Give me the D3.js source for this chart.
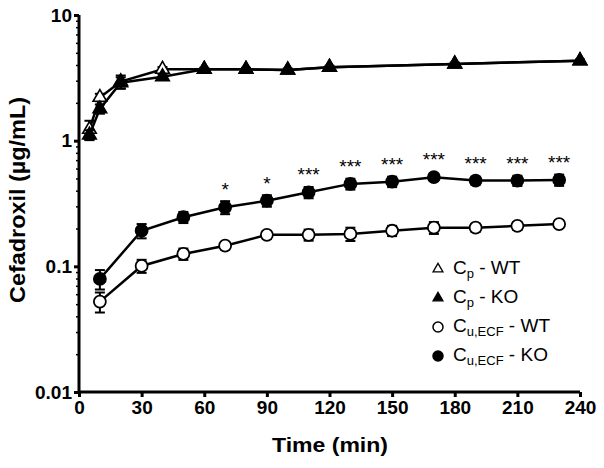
<!DOCTYPE html>
<html>
<head>
<meta charset="utf-8">
<script src="https://cdn.jsdelivr.net/npm/d3@7"></script>
<style>
  html, body { margin: 0; padding: 0; background: #fff; }
  svg { display: block; }
</style>
</head>
<body>
<svg id="chart" width="604" height="468"></svg>
<script>
// ---- Data ----
const cpTimes = [5, 10, 20, 40, 60, 80, 100, 120, 180, 240];
const cpWT = [1.23, 2.21, 2.95, 3.70, 3.70, 3.70, 3.65, 3.84, 4.08, 4.33];
const cpWTerr = [0.21, 0.15, 0.35, 0.15, 0, 0, 0, 0, 0, 0];
const cpKO = [1.11, 1.79, 2.89, 3.23, 3.70, 3.70, 3.65, 3.84, 4.08, 4.33];
const cpKOerr = [0.10, 0.15, 0.30, 0.15, 0.1, 0.1, 0.1, 0.1, 0.1, 0.1];

const cuTimes = [10, 30, 50, 70, 90, 110, 130, 150, 170, 190, 210, 230];
const cuWT = [0.0524, 0.1007, 0.1255, 0.146, 0.178, 0.178, 0.181, 0.192, 0.203, 0.203, 0.210, 0.217];
const cuWTerr = [0.0095, 0.012, 0.013, 0.010, 0.013, 0.018, 0.022, 0.018, 0.022, 0.015, 0.015, 0.006];
const cuKO = [0.0794, 0.192, 0.246, 0.295, 0.333, 0.388, 0.453, 0.472, 0.512, 0.481, 0.481, 0.487];
const cuKOerr = [0.014, 0.025, 0.025, 0.035, 0.035, 0.040, 0.045, 0.045, 0.030, 0.035, 0.045, 0.050];
const sigLabels = ["", "", "", "*", "*", "***", "***", "***", "***", "***", "***", "***"];

const xTicks = [0, 30, 60, 90, 120, 150, 180, 210, 240];
const yTicks = [0.01, 0.1, 1, 10];
const yTickLabels = ["0.01", "0.1", "1", "10"];

const legendItems = [
  { main: "C", sub: "p", rest: " - WT", shape: "triangle", fill: "#fff" },
  { main: "C", sub: "p", rest: " - KO", shape: "triangle", fill: "#000" },
  { main: "C", sub: "u,ECF", rest: " - WT", shape: "circle", fill: "#fff" },
  { main: "C", sub: "u,ECF", rest: " - KO", shape: "circle", fill: "#000" }
];

// ---- Layout ----
const svg = d3.select("#chart");
const FONT = "'Liberation Sans', Arial, Helvetica, sans-serif";
const x = d3.scaleLinear().domain([0, 240]).range([79, 580]);
const y = d3.scaleLog().domain([0.01, 10]).range([392, 15]);

// Lines
const line = d3.line().x(d => x(d[0])).y(d => y(d[1]));
function drawSeries(times, vals, errs, shape, fill, rSize) {
  const pts = times.map((t, i) => [t, vals[i], errs[i]]);
  svg.append("path").datum(pts).attr("d", line)
    .attr("fill", "none").attr("stroke", "#000").attr("stroke-width", 2.5);
  const g = svg.append("g");
  pts.forEach(p => {
    if (p[2] > 0) {
      const y1 = y(p[1] + p[2]), y0 = y(Math.max(p[1] - p[2], 0.0105));
      g.append("line").attr("x1", x(p[0])).attr("x2", x(p[0])).attr("y1", y1).attr("y2", y0)
        .attr("stroke", "#000").attr("stroke-width", 2);
      [y1, y0].forEach(yy => g.append("line").attr("x1", x(p[0]) - 5).attr("x2", x(p[0]) + 5)
        .attr("y1", yy).attr("y2", yy).attr("stroke", "#000").attr("stroke-width", 2));
    }
  });
  pts.forEach(p => {
    if (shape === "circle") {
      g.append("circle").attr("cx", x(p[0])).attr("cy", y(p[1])).attr("r", 6)
        .attr("fill", fill).attr("stroke", "#000").attr("stroke-width", 1.8);
    } else {
      g.append("path").attr("d", d3.symbol().type(d3.symbolTriangle).size(rSize)())
        .attr("transform", `translate(${x(p[0])},${y(p[1])})`)
        .attr("fill", fill).attr("stroke", "#000").attr("stroke-width", 1.6);
    }
  });
}
drawSeries(cpTimes, cpWT, cpWTerr, "triangle", "#fff", 80);
drawSeries(cpTimes, cpKO, cpKOerr, "triangle", "#000", 80);
drawSeries(cuTimes, cuWT, cuWTerr, "circle", "#fff");
drawSeries(cuTimes, cuKO, cuKOerr, "circle", "#000");

// Significance stars
svg.append("g").selectAll("text").data(cuTimes).join("text")
  .attr("x", d => x(d)).attr("y", (d, i) => y(cuKO[i]) - 11)
  .attr("text-anchor", "middle").attr("font-family", FONT).attr("font-size", 19)
  .text((d, i) => sigLabels[i]);

// Axes
const yAxis = d3.axisLeft(y).tickValues(yTicks).tickFormat((d, i) => yTickLabels[i]).tickSize(5).tickPadding(2);
const gy = svg.append("g").attr("transform", "translate(79,0)").call(yAxis);
const minor = [];
[0.01, 0.1, 1].forEach(b => { for (let k = 2; k <= 9; k++) minor.push(b * k); });
svg.append("g").attr("transform", "translate(79,0)")
  .call(d3.axisLeft(y).tickValues(minor).tickFormat("").tickSize(3))
  .call(g => g.select(".domain").remove())
  .selectAll("line").attr("stroke-width", 1.5);

const xAxis = d3.axisBottom(x).tickValues(xTicks).tickSize(5).tickPadding(4);
const gx = svg.append("g").attr("transform", "translate(0,392)").call(xAxis);

[gx, gy].forEach(g => {
  g.select(".domain").attr("stroke-width", 3).attr("d",
    g === gx ? `M${x(0)},0H${x(240)}` : `M0,${y(10)}V${y(0.01)}`);
  g.selectAll(".tick line").attr("stroke-width", 3);
  g.selectAll("text").attr("font-family", FONT).attr("font-size", 19)
    .attr("font-weight", "bold").attr("fill", "#000");
});

// Axis titles
svg.append("text").attr("x", 330).attr("y", 452).attr("text-anchor", "middle")
  .attr("font-family", FONT).attr("font-size", 20).attr("font-weight", "bold")
  .attr("textLength", 116).attr("lengthAdjust", "spacingAndGlyphs").text("Time (min)");
svg.append("text").attr("transform", "translate(25,200) rotate(-90)").attr("text-anchor", "middle")
  .attr("font-family", FONT).attr("font-size", 22).attr("font-weight", "bold")
  .attr("textLength", 206).attr("lengthAdjust", "spacingAndGlyphs").text("Cefadroxil (µg/mL)");

// Legend
const lg = svg.append("g");
legendItems.forEach((it, i) => {
  const cy = 269 + i * 29;
  if (it.shape === "circle") {
    lg.append("circle").attr("cx", 438).attr("cy", cy).attr("r", 5)
      .attr("fill", it.fill).attr("stroke", "#000").attr("stroke-width", 1.5);
  } else {
    lg.append("path").attr("d", d3.symbol().type(d3.symbolTriangle).size(42)())
      .attr("transform", `translate(438,${cy})`)
      .attr("fill", it.fill).attr("stroke", "#000").attr("stroke-width", 1.3);
  }
  const t = lg.append("text").attr("x", 453).attr("y", cy + 5)
    .attr("font-family", FONT).attr("font-size", 19).attr("fill", "#000");
  t.append("tspan").text(it.main);
  t.append("tspan").attr("font-size", 13).attr("dy", 4).text(it.sub);
  t.append("tspan").attr("dy", -4).text(it.rest);
});
</script>
</body>
</html>
